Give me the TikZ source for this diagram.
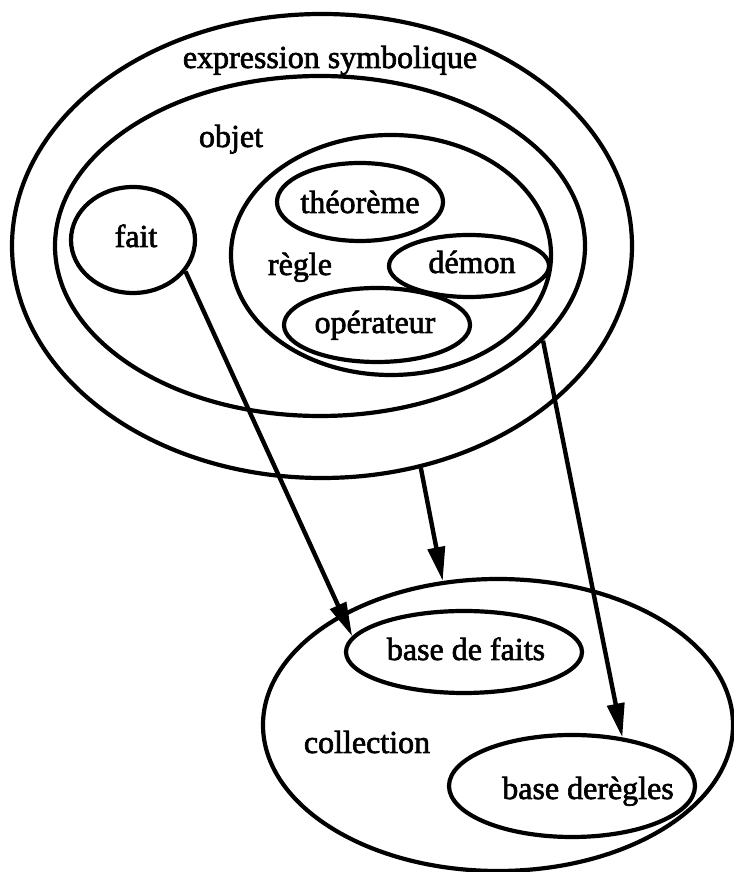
\documentclass[tikz,border=0pt]{standalone}
\usepackage{fontspec}
\setmainfont{Liberation Serif}[BoldFont=Liberation Serif, BoldFeatures={FakeBold=2}]
\usetikzlibrary{shapes.geometric,arrows.meta}
\begin{document}
\begin{tikzpicture}[x=1pt,y=1pt,
  set/.style={ellipse, draw, line width=4.2pt, inner sep=0pt},
  lbl/.style={font=\fontsize{32}{38}\selectfont\bfseries, inner sep=0pt, anchor=base},
  arr/.style={line width=4.4pt, -{Triangle[length=34pt,width=17pt]}}]
\useasboundingbox (0,0) rectangle (733,872);

% nested sets
\node[set, minimum width=620, minimum height=464] (expr) at (322,626) {};
\node[set, minimum width=530, minimum height=340] (objet) at (320,626) {};
\node[set, minimum width=124, minimum height=106] (fait) at (133,632) {};
\node[set, minimum width=320, minimum height=240] (regle) at (391,617) {};
\node[set, minimum width=166, minimum height=78] (theo) at (360,670) {};
\node[set, minimum width=160, minimum height=62] (demon) at (469,606) {};
\node[set, minimum width=186, minimum height=74] (oper) at (377,547) {};
\node[set, minimum width=470, minimum height=292] (coll) at (498,147) {};
\node[set, minimum width=236, minimum height=82] (bdf) at (464,220) {};
\node[set, minimum width=246, minimum height=102] (bdr) at (572,86) {};

% labels
\node[lbl] (lexpr) at (330,804) {expression symbolique};
\node[lbl] (lobjet) at (231,725) {objet};
\node[lbl] (lfait) at (136,625) {fait};
\node[lbl] (lregle) at (300,597) {règle};
\node[lbl] (ltheo) at (360,659) {théorème};
\node[lbl] (ldemon) at (472,599) {démon};
\node[lbl] (loper) at (375,539) {opérateur};
\node[lbl] (lcoll) at (367,119) {collection};
\node[lbl] (lbdf) at (466,212) {base de faits};
\node[lbl] (lbdr) at (588,73) {base derègles};

% connectors
\draw[arr] (fait.-31) -- (bdf.172);
\draw[arr] (expr.-66) -- (coll.111.5);
\draw[arr] (objet.-23.8) -- (bdr.44);
\end{tikzpicture}
\end{document}
